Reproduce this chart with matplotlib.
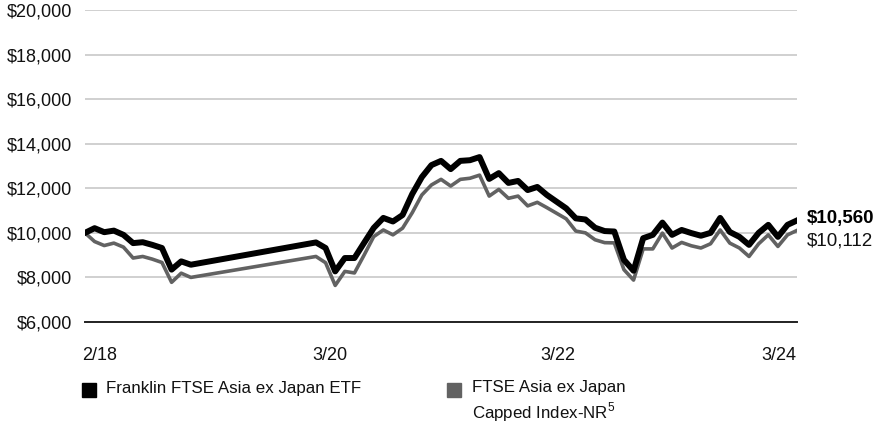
import matplotlib
matplotlib.use('Agg')
import matplotlib.pyplot as plt
from matplotlib.patches import Rectangle
from matplotlib.ticker import FuncFormatter

plt.rcParams['font.family'] = ['Liberation Sans', 'DejaVu Sans']
plt.rcParams['mathtext.fontset'] = 'custom'
plt.rcParams['mathtext.rm'] = 'Liberation Sans'

# month index since inception (Feb 2018); months 12-23 have no value
months = list(range(0, 12)) + list(range(24, 75))

fund = [10000, 10210, 10030, 10100, 9910, 9540, 9580, 9460, 9320, 8350, 8720, 8570,
        9570, 9320, 8270, 8870, 8870, 9550, 10220, 10670, 10510, 10800, 11740, 12500,
        13040, 13230, 12860, 13230, 13260, 13400, 12420, 12680, 12240, 12330, 11920,
        12060, 11700, 11400, 11100, 10650, 10600, 10230, 10080, 10060, 8790, 8300,
        9760, 9910, 10460, 9910, 10130, 9990, 9870, 10000, 10670, 10040, 9820, 9460,
        10000, 10360, 9820, 10360, 10560]

index = [10000, 9610, 9430, 9540, 9360, 8870, 8940, 8820, 8670, 7780, 8190, 8000,
         8940, 8660, 7640, 8270, 8200, 9000, 9830, 10130, 9910, 10210, 10900, 11700,
         12150, 12400, 12100, 12400, 12450, 12590, 11650, 11950, 11550, 11650, 11210,
         11370, 11130, 10880, 10630, 10080, 10000, 9690, 9560, 9550, 8350, 7880,
         9280, 9280, 9990, 9320, 9570, 9420, 9320, 9510, 10130, 9540, 9320, 8940,
         9510, 9910, 9390, 9910, 10112]

tick_pos = [1.5, 25.4, 49.1, 72.1]
tick_labels = ['2/18', '3/20', '3/22', '3/24']
y_ticks = [6000, 8000, 10000, 12000, 14000, 16000, 18000, 20000]

fund_name = 'Franklin FTSE Asia ex Japan ETF'
index_name = 'FTSE Asia ex Japan\nCapped Index-NR$^{\\mathrm{5}}$'

c_fund = '#000000'
c_index = '#626262'

fig = plt.figure(figsize=(8.76, 4.3), dpi=100)
ax = fig.add_axes([0.097, 0.2512, 0.813, 0.7255])

ax.plot(months, index, color=c_index, lw=2.6, zorder=3)
ax.plot(months, fund, color=c_fund, lw=4.3, zorder=4)

ax.set_xlim(0, 74)
ax.set_ylim(6000, 20000)
ax.set_yticks(y_ticks)
ax.yaxis.set_major_formatter(FuncFormatter(lambda v, p: '${:,.0f}'.format(v)))
ax.set_xticks(tick_pos)
ax.set_xticklabels(tick_labels)
ax.tick_params(axis='both', length=0, labelsize=13, colors='#111111')
ax.tick_params(axis='y', pad=9)
ax.tick_params(axis='x', pad=18)

ax.grid(axis='y', color='#c8c8c8', lw=1.2)
ax.set_axisbelow(True)
for s in ['top', 'right', 'left']:
    ax.spines[s].set_visible(False)
ax.spines['bottom'].set_color('#222222')
ax.spines['bottom'].set_linewidth(1.4)
ax.spines['bottom'].set_zorder(5)

# end-of-period values
ax.annotate('${:,.0f}'.format(fund[-1]), xy=(months[-1], fund[-1]),
            xytext=(7, 1), textcoords='offset points', ha='left', va='center',
            fontsize=13.5, fontweight='bold', color=c_fund, annotation_clip=False)
ax.annotate('${:,.0f}'.format(index[-1]), xy=(months[-1], fund[-1]),
            xytext=(7, -15), textcoords='offset points', ha='left', va='center',
            fontsize=13.5, color='#111111', annotation_clip=False)

# legend below the chart
fig.patches.append(Rectangle((82 / 876, 1 - 397 / 430), 14 / 876, 14 / 430,
                             transform=fig.transFigure, color=c_fund))
fig.text(106 / 876, 1 - 389 / 430, fund_name, fontsize=12.2, va='center', color='#111111')
fig.patches.append(Rectangle((447 / 876, 1 - 397 / 430), 14 / 876, 14 / 430,
                             transform=fig.transFigure, color=c_index))
fig.text(472 / 876, 1 - 380 / 430, index_name, fontsize=12.2, va='top',
         linespacing=1.3, color='#111111')

fig.savefig('out.png', dpi=100)
